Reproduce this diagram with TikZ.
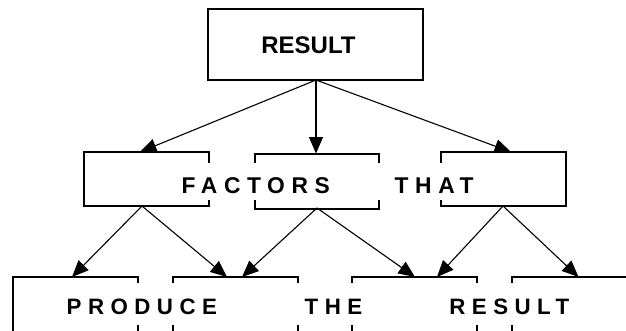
\documentclass[tikz,border=0pt]{standalone}
\usepackage{fontspec}
\setmainfont{Liberation Sans}
\newfontfamily\spaced{Liberation Sans}[LetterSpace=29]
\usetikzlibrary{arrows.meta}
\begin{document}
\begin{tikzpicture}[x=1pt,y=1pt,
  boxline/.style={draw=black,line width=1.2pt},
  cover/.style={fill=white,draw=none},
  arr/.style={line width=1.1pt,-{Triangle[length=16.5pt,width=14pt]}},
  midtext/.style={anchor=base west,inner sep=0pt,font=\spaced\bfseries\fontsize{22.8}{26}\selectfont},
  bottext/.style={anchor=base west,inner sep=0pt,font=\spaced\bfseries\fontsize{22.3}{26}\selectfont}]
\useasboundingbox (0,0) rectangle (626,330);
\clip (0,0) rectangle (626,330);
% top box
\node[boxline,minimum width=215pt,minimum height=71pt,inner sep=0pt] (top) at (315.5,285.5) {};
\node[anchor=base west,inner sep=0pt,font=\bfseries\fontsize{24}{28}\selectfont] (toptext) at (261.2,276) {RESULT};
% middle boxes
\node[boxline,minimum width=125pt,minimum height=54pt,inner sep=0pt] (m1) at (146.5,151) {};
\node[boxline,minimum width=124pt,minimum height=55pt,inner sep=0pt] (m2) at (317,148.5) {};
\node[boxline,minimum width=125pt,minimum height=54pt,inner sep=0pt] (m3) at (503.5,151) {};
% bottom boxes
\node[boxline,minimum width=125pt,minimum height=60pt,inner sep=0pt] (b1) at (75.5,23) {};
\node[boxline,minimum width=125pt,minimum height=60pt,inner sep=0pt] (b2) at (235.5,23) {};
\node[boxline,minimum width=125pt,minimum height=60pt,inner sep=0pt] (b3) at (414.5,23) {};
\node[boxline,minimum width=125pt,minimum height=60pt,inner sep=0pt] (b4) at (574.5,23) {};
% white covers behind the spaced texts
\fill[cover] (160,130) rectangle (500,167);
\fill[cover] (45,5) rectangle (600,47);
% spaced texts
\node[midtext] (w1) at (181.5,136.7) {FACTORS};
\node[midtext] (w2) at (394.5,136.7) {THAT};
\node[bottext] (w3) at (66.5,16) {PRODUCE};
\node[bottext] (w4) at (304.5,16) {THE};
\node[bottext] (w5) at (449.2,16) {RESULT};
% connector end points
\coordinate (o0) at (316,250);
\coordinate (t1) at (140,178);
\coordinate (t2) at (316,176.5);
\coordinate (t3) at (511,178);
\coordinate (o1) at (142,124);
\coordinate (o2) at (317,122);
\coordinate (o3) at (503,124);
\coordinate (u1) at (72,53);
\coordinate (u2) at (227,53);
\coordinate (u3) at (242,53);
\coordinate (u4) at (415,53);
\coordinate (u5) at (437,53);
\coordinate (u6) at (578.5,53);
% connectors
\draw[arr] (o0) -- (t1);
\draw[arr] (o0) -- (t2);
\draw[arr] (o0) -- (t3);
\draw[arr] (o1) -- (u1);
\draw[arr] (o1) -- (u2);
\draw[arr] (o2) -- (u3);
\draw[arr] (o2) -- (u4);
\draw[arr] (o3) -- (u5);
\draw[arr] (o3) -- (u6);
\end{tikzpicture}
\end{document}
